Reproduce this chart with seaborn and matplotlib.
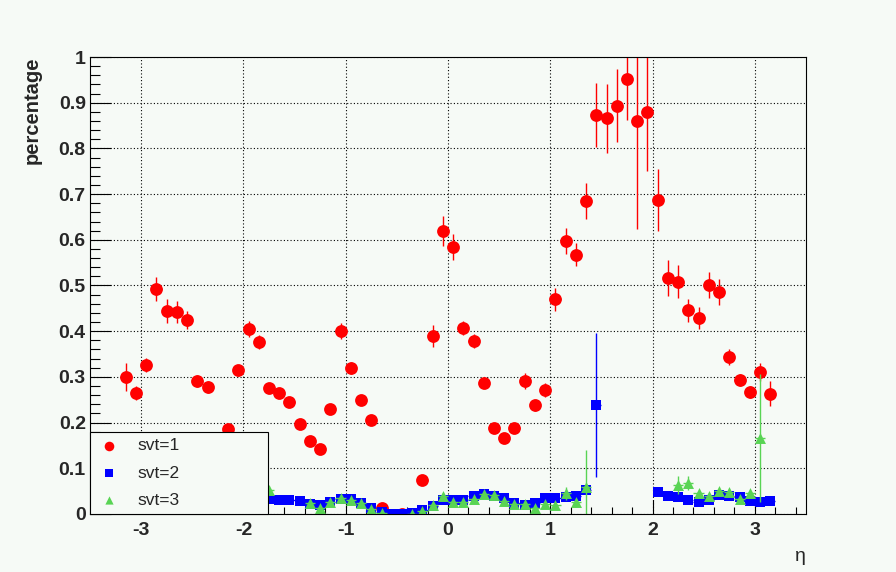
import numpy as np
import pandas as pd
import seaborn as sns
import matplotlib
matplotlib.use("Agg")
import matplotlib.pyplot as plt
from matplotlib.ticker import MultipleLocator, FuncFormatter

nan = np.nan

# bin centres in eta (bins of 0.1)
eta = [round(-3.15 + 0.1 * i, 2) for i in range(64)]

# svt=1 (red circles)
svt1 = [0.300, 0.265, 0.326, 0.492, 0.444, 0.442, 0.425, 0.291, 0.278, nan,
        0.185, 0.315, 0.405, 0.376, 0.276, 0.265, 0.245, 0.197, 0.160, 0.142,
        0.230, 0.400, 0.320, 0.250, 0.206, 0.013, nan, 0.001, nan, 0.074,
        0.390, 0.619, 0.584, 0.407, 0.378, 0.287, 0.188, 0.166, 0.188, 0.291,
        0.238, 0.271, 0.470, 0.597, 0.567, 0.685, 0.873, 0.866, 0.893, 0.952,
        0.860, 0.880, 0.687, 0.516, 0.508, 0.446, 0.429, 0.501, 0.486, 0.344,
        0.293, 0.267, 0.311, 0.263]
svt1_err = [0.030, 0.015, 0.015, 0.027, 0.027, 0.025, 0.020, 0.013, 0.013, nan,
            0.010, 0.012, 0.018, 0.015, 0.010, 0.010, 0.010, 0.008, 0.008, 0.008,
            0.010, 0.018, 0.013, 0.010, 0.008, 0.004, nan, 0.002, nan, 0.006,
            0.024, 0.032, 0.028, 0.015, 0.015, 0.010, 0.008, 0.008, 0.008, 0.017,
            0.012, 0.015, 0.025, 0.028, 0.025, 0.039, 0.070, 0.075, 0.080, 0.090,
            0.236, 0.130, 0.068, 0.040, 0.036, 0.025, 0.024, 0.028, 0.028, 0.017,
            0.014, 0.014, 0.020, 0.027]

# svt=2 (blue squares)
svt2 = [nan, nan, nan, nan, nan, nan, nan, nan, nan, nan,
        nan, nan, nan, nan, 0.033, 0.031, 0.031, 0.028, 0.022, 0.020,
        0.027, 0.033, 0.033, 0.024, 0.013, 0.005, 0.000, 0.000, 0.003, 0.009,
        0.018, 0.030, 0.030, 0.030, 0.040, 0.043, 0.040, 0.034, 0.025, 0.020,
        0.025, 0.034, 0.035, 0.037, 0.040, 0.053, 0.238, nan, nan, nan,
        nan, nan, 0.048, 0.040, 0.038, 0.031, 0.027, 0.030, 0.041, 0.039,
        0.038, 0.028, 0.027, 0.029]
svt2_err = [0.004 if i != 46 else 0.158 for i in range(64)]

# svt=3 (green triangles)
svt3 = [nan, nan, nan, nan, nan, nan, nan, nan, nan, nan,
        nan, nan, nan, nan, 0.052, nan, nan, nan, 0.024, 0.013,
        0.027, 0.035, 0.030, 0.024, 0.011, 0.002, nan, nan, 0.000, 0.007,
        0.020, 0.040, 0.027, 0.027, 0.033, 0.044, 0.041, 0.029, 0.021, 0.021,
        0.014, 0.021, 0.020, 0.045, 0.027, 0.059, nan, nan, nan, nan,
        nan, nan, nan, nan, 0.063, 0.068, 0.046, 0.040, 0.050, 0.048,
        0.033, 0.046, 0.166, nan]
svt3_err = [0.005] * 64
svt3_err[43] = 0.015
svt3_err[45] = 0.080
svt3_err[54] = 0.020
svt3_err[55] = 0.015
svt3_err[62] = 0.140

labels = ["svt=1", "svt=2", "svt=3"]
colors = ["#ff0000", "#0000ff", "#59d454"]
markers = ["o", "s", "^"]
msizes = [85, 58, 62]

bg = "#f6faf6"
sns.set_style("ticks")
plt.rcParams["font.family"] = ["Liberation Sans", "DejaVu Sans"]
plt.rcParams["axes.unicode_minus"] = False

fig = plt.figure(figsize=(8.96, 5.72), dpi=100, facecolor=bg)
ax = fig.add_axes([90 / 896, 1 - 514 / 572, 716 / 896, 457 / 572])
ax.set_facecolor(bg)

series = [(svt1, svt1_err), (svt2, svt2_err), (svt3, svt3_err)]
for k, (vals, errs) in enumerate(series):
    df = pd.DataFrame({"eta": eta, "frac": vals, "err": errs}).dropna()
    ax.errorbar(df["eta"], df["frac"], yerr=df["err"], xerr=0.05, fmt="none",
                ecolor=colors[k], elinewidth=1.0, capsize=0, zorder=3 + k)
    sns.scatterplot(data=df, x="eta", y="frac", ax=ax, color=colors[k],
                    marker=markers[k], s=msizes[k], linewidth=0,
                    label=labels[k], zorder=3.5 + k)

ax.set_xlim(-3.5, 3.5)
ax.set_ylim(0, 1)
ax.xaxis.set_major_locator(MultipleLocator(1))
ax.xaxis.set_minor_locator(MultipleLocator(0.2))
ax.yaxis.set_major_locator(MultipleLocator(0.1))
ax.yaxis.set_minor_locator(MultipleLocator(0.02))
ax.yaxis.set_major_formatter(FuncFormatter(lambda v, p: f"{v:g}"))
ax.xaxis.set_major_formatter(FuncFormatter(lambda v, p: f"{v:g}"))

ax.tick_params(which="both", direction="in", top=False, right=False,
               color="black", width=0.8, labelsize=14)
ax.tick_params(axis="x", which="major", length=10, pad=6)
ax.tick_params(axis="x", which="minor", length=5)
ax.tick_params(axis="y", which="major", length=15, pad=3)
ax.tick_params(axis="y", which="minor", length=7.5)
for lab in ax.get_xticklabels() + ax.get_yticklabels():
    lab.set_fontweight("bold")

ax.grid(True, which="major", color="black", linestyle=(0, (1, 2)), linewidth=0.8)
for sp in ax.spines.values():
    sp.set_color("black")
    sp.set_linewidth(0.8)
    sp.set_zorder(10)

ax.set_ylabel("percentage", loc="top", fontsize=14.5, fontweight="bold")
ax.yaxis.set_label_coords(-48 / 716, 1)
ax.set_xlabel("η", loc="right", fontsize=14)
ax.xaxis.set_label_coords(1, -34 / 457)

leg = ax.legend(loc="lower left", bbox_to_anchor=(0, 0, 178 / 716, 84 / 457),
                mode="expand", borderaxespad=0, fancybox=False, framealpha=1,
                facecolor=bg, edgecolor="black", fontsize=12.5, labelspacing=0.7,
                handletextpad=0.9, borderpad=0.35, handlelength=1.5,
                markerscale=0.75)
leg.get_frame().set_linewidth(0.8)
leg.set_zorder(20)

plt.savefig("out.png", dpi=100, facecolor=bg)
